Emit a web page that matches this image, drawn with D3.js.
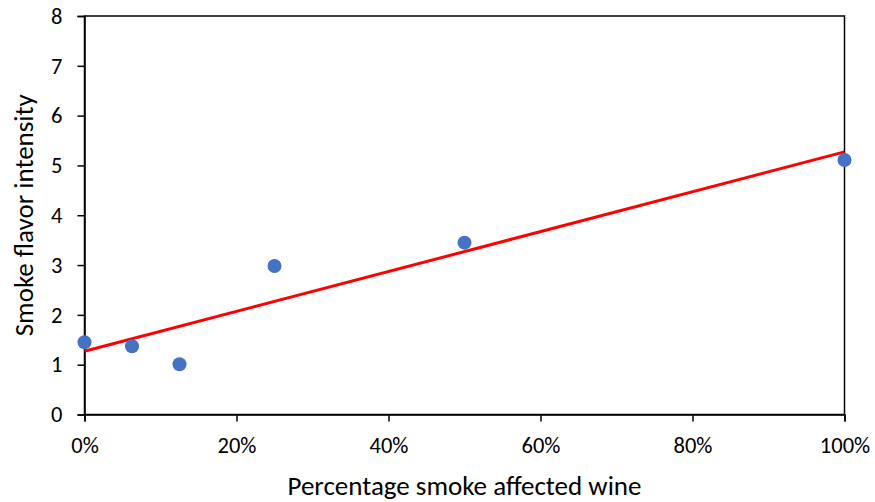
<!DOCTYPE html>
<html>
<head>
<meta charset="utf-8">
<script src="https://cdn.jsdelivr.net/npm/d3@7"></script>
<style>
  html, body { margin: 0; padding: 0; background: #fff; }
  svg { display: block; }
  text { font-family: Carlito, Calibri, "Open Sans", sans-serif; fill: #000; }
</style>
</head>
<body>
<svg id="chart" width="875" height="502"></svg>
<script>
// Share of smoke-affected wine in the blend vs. perceived smoke flavor
const blendShare = [0, 0.0625, 0.125, 0.25, 0.5, 1.0];
const flavorIntensity = [1.45, 1.37, 1.01, 2.98, 3.45, 5.11];
const xTicks = [0, 0.2, 0.4, 0.6, 0.8, 1.0];
const yTicks = [0, 1, 2, 3, 4, 5, 6, 7, 8];

const svg = d3.select("#chart");
const W = 875, H = 502;
const margin = { left: 84.5, right: W - 844.5, top: 16, bottom: H - 414.5 };

const x = d3.scaleLinear().domain([0, 1]).range([margin.left, W - margin.right]);
const y = d3.scaleLinear().domain([0, 8]).range([H - margin.bottom, margin.top]);

// Plot frame
svg.append("rect")
  .attr("x", x(0)).attr("y", y(8))
  .attr("width", x(1) - x(0)).attr("height", y(0) - y(8))
  .attr("fill", "none").attr("stroke", "#000").attr("stroke-width", 1.5);

// Axes
const yAxis = svg.append("g")
  .attr("transform", `translate(${x(0)},0)`)
  .call(d3.axisLeft(y).tickValues(yTicks).tickSize(7).tickPadding(15).tickFormat(d3.format("d")));
const xAxis = svg.append("g")
  .attr("transform", `translate(0,${y(0)})`)
  .call(d3.axisBottom(x).tickValues(xTicks).tickSize(7).tickPadding(16).tickFormat(d3.format(".0%")));

[yAxis, xAxis].forEach(g => {
  g.select(".domain").attr("stroke", "#000").attr("stroke-width", 1.5);
  g.selectAll(".tick line").attr("stroke", "#000").attr("stroke-width", 1.5);
  g.selectAll(".tick text").style("font-family", "Carlito, Calibri, 'Open Sans', sans-serif")
    .style("font-size", "22.5px").attr("fill", "#000");
});

// Least-squares trend line
const n = blendShare.length;
const mx = d3.mean(blendShare), my = d3.mean(flavorIntensity);
let sxy = 0, sxx = 0;
for (let i = 0; i < n; i++) {
  sxy += (blendShare[i] - mx) * (flavorIntensity[i] - my);
  sxx += (blendShare[i] - mx) ** 2;
}
const slope = sxy / sxx, intercept = my - slope * mx;
const trend = [0, 1].map(v => [v, intercept + slope * v]);

svg.append("path")
  .datum(trend)
  .attr("d", d3.line().x(d => x(d[0])).y(d => y(d[1])))
  .attr("stroke", "#FF0000").attr("stroke-width", 3).attr("fill", "none");

// Observations
svg.append("g").selectAll("circle")
  .data(blendShare.map((v, i) => [v, flavorIntensity[i]]))
  .join("circle")
  .attr("cx", d => x(d[0])).attr("cy", d => y(d[1]))
  .attr("r", 7).attr("fill", "#4472C4");

// Axis titles
svg.append("text")
  .attr("x", (x(0) + x(1)) / 2).attr("y", 495)
  .attr("text-anchor", "middle").style("font-size", "27px")
  .text("Percentage smoke affected wine");
svg.append("text")
  .attr("transform", `translate(33,${(y(0) + y(8)) / 2}) rotate(-90)`)
  .attr("text-anchor", "middle").style("font-size", "27px")
  .text("Smoke flavor intensity");
</script>
</body>
</html>
